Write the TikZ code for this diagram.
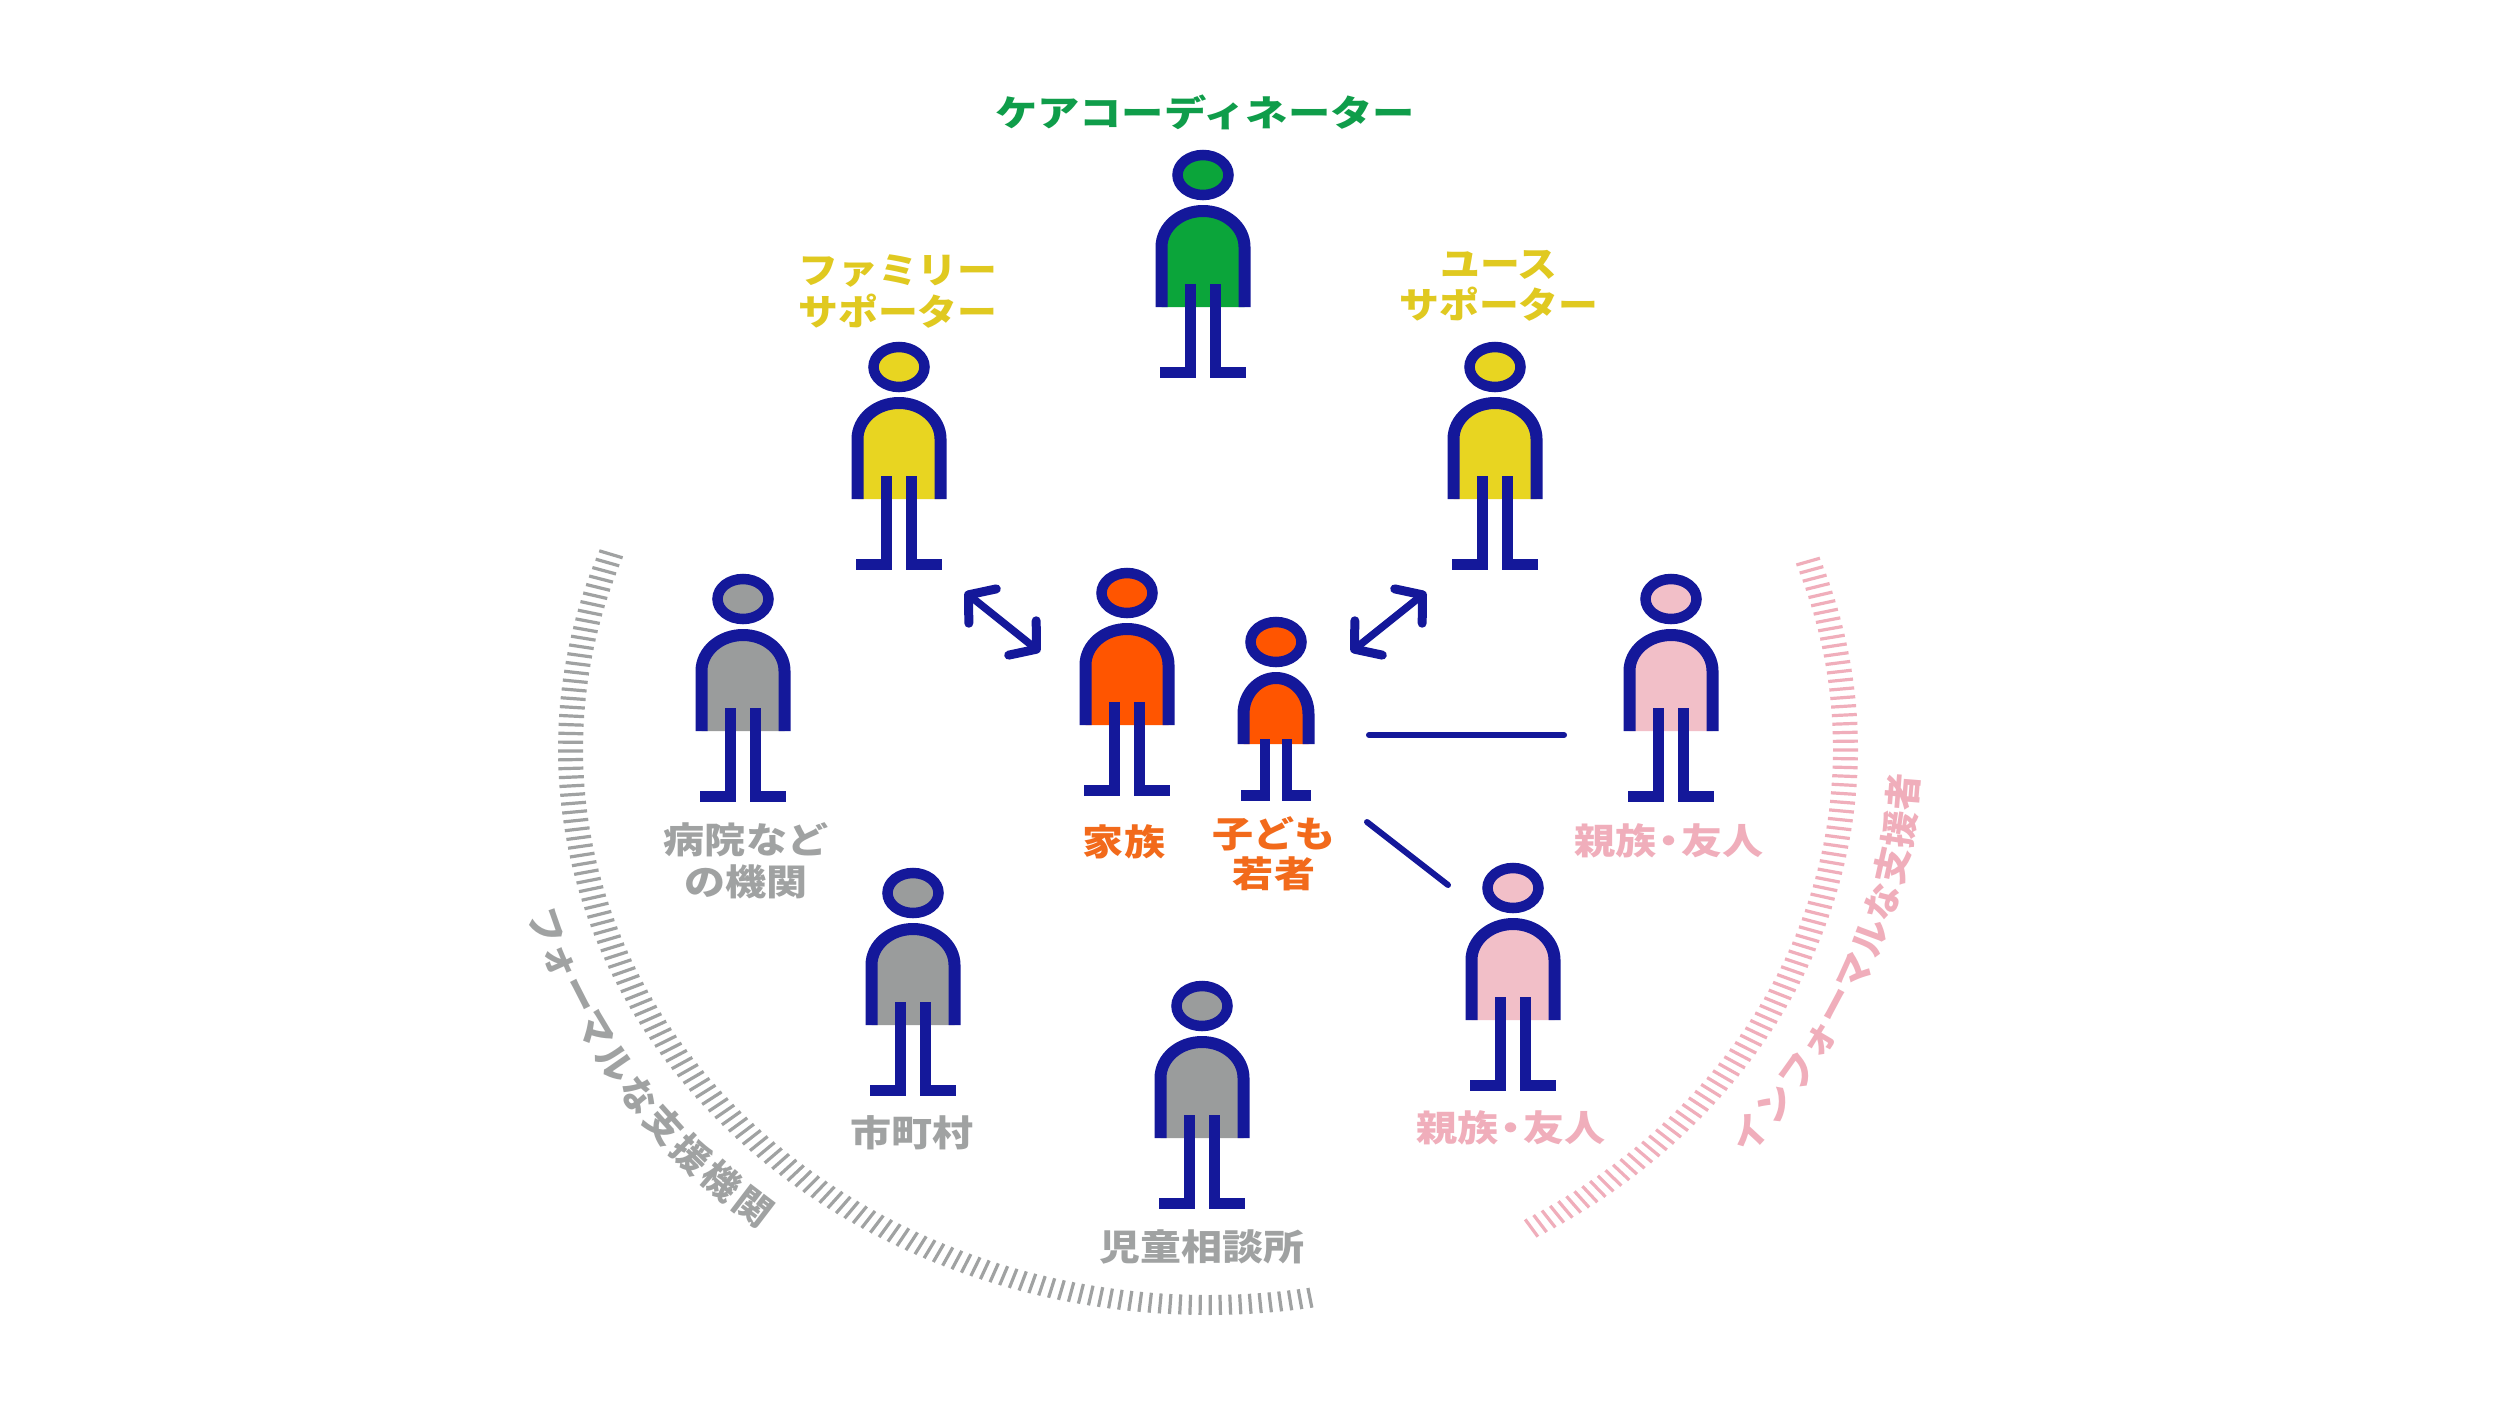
\documentclass[tikz,border=0pt]{standalone}
\usepackage{fontspec}
\setmainfont{Noto Sans CJK JP}
\usetikzlibrary{arrows.meta}
\definecolor{navy}{HTML}{14189A}
\definecolor{cgreen}{HTML}{0BA53A}
\definecolor{cyellow}{HTML}{E8D521}
\definecolor{corange}{HTML}{FF5500}
\definecolor{cgrey}{HTML}{9A9C9C}
\definecolor{cpink}{HTML}{F2BFC8}
\definecolor{tgreen}{HTML}{0F9D4A}
\definecolor{tyellow}{HTML}{E0C920}
\definecolor{torange}{HTML}{F26A1B}
\definecolor{tgrey}{HTML}{A0A2A2}
\definecolor{tpink}{HTML}{F0AEBB}
\tikzset{
  lbl/.style={font=\fontsize{36}{36}\selectfont\bfseries, inner sep=0pt, xscale=1.14, transform shape},
  lblwide/.style={lbl, xscale=1.03},
  lblnarrow/.style={lbl, xscale=0.97},
  arclbl/.style={font=\fontsize{37}{37}\selectfont\bfseries, inner sep=0pt},
  link/.style={draw=navy, line width=6pt, line cap=round},
  dbl/.style={draw=navy, line width=7.5pt, {Straight Barb[length=18pt,width=44pt,line width=9pt,round=false]}-{Straight Barb[length=18pt,width=44pt,line width=9pt,round=false]}},
  tick/.style={line width=3.2pt}
}
% name, cx, cy, colour, half width, body bottom, leg top, leg bottom, leg x
\newcommand{\personfoot}{43}
\newcommand{\figperson}[9]{%
  \coordinate (#1) at (#2,#3);
  \begin{scope}[shift={(#2,#3)}]
    \pgfmathsetmacro{\inw}{#5-6}
    \pgfmathsetmacro{\inwn}{-(#5-6)}
    \draw[navy,fill=#4,line width=10.5pt] (0,0) ellipse [x radius=25.5pt,y radius=20pt];
    \fill[#4] (\inwn,#6) -- (\inwn,72) arc[start angle=180,end angle=0,x radius=\inw pt,y radius=36pt] -- (\inw,#6) -- cycle;
    \draw[navy,line width=12pt,line join=round] (\inwn,#6) -- (\inwn,72) arc[start angle=180,end angle=0,x radius=\inw pt,y radius=36pt] -- (\inw,#6);
    \draw[navy,line width=10.5pt,line join=miter] (-#9,#7) -- (-#9,{#8-4.5}) -- (-\personfoot,{#8-4.5});
    \draw[navy,line width=10.5pt,line join=miter] (#9,#7) -- (#9,{#8-4.5}) -- (\personfoot,{#8-4.5});
  \end{scope}}
\begin{document}
\begin{tikzpicture}[x=1pt,y=-1pt]
\useasboundingbox[fill=white] (0,0) rectangle (2500,1406);

% arcs of ticks
\foreach \k in {0,...,133} {
  \pgfmathsetmacro{\t}{200.5-\k*0.9}
  \draw[tgrey,tick] ({1208+625*cos(\t)},{749+546*sin(\t)}) -- ({1208+650*cos(\t)},{749+566*sin(\t)});
}
\foreach \k in {0,...,88} {
  \pgfmathsetmacro{\t}{-19.7+\k*0.9}
  \draw[tpink,tick] ({1208+625*cos(\t)},{749+546*sin(\t)}) -- ({1208+650*cos(\t)},{749+566*sin(\t)});
}

% adults
\figperson{coord}{1203}{175}{cgreen}{47.5}{132}{109}{202}{12.5}
\figperson{fam}{899}{367}{cyellow}{47.5}{132}{109}{202}{12.5}
\figperson{youth}{1495}{367}{cyellow}{47.5}{132}{109}{202}{12.5}
\figperson{hosp}{743}{599}{cgrey}{47.5}{132}{109}{202}{12.5}
\figperson{city}{913}{893}{cgrey}{47.5}{132}{109}{202}{12.5}
\figperson{cons}{1202}{1006}{cgrey}{47.5}{132}{109}{202}{12.5}
\figperson{rel}{1671}{599}{cpink}{47.5}{132}{109}{202}{12.5}
\figperson{relb}{1513}{888}{cpink}{47.5}{132}{109}{202}{12.5}
\figperson{fami}{1127}{593}{corange}{47.5}{132}{109}{202}{12.5}
\renewcommand{\personfoot}{35}
\figperson{kid}{1276}{642}{corange}{38.5}{102}{97}{158}{11}

% labels
\node[lblwide,text=tgreen] (lcoord) at (1205,112) {ケアコーディネーター};
\node[lblnarrow,text=tyellow] (lfama) at (898,271) {ファミリー};
\node[lblnarrow,text=tyellow] (lfamb) at (898,311) {サポーター};
\node[lblnarrow,text=tyellow] (lyoua) at (1499,265) {ユース};
\node[lblnarrow,text=tyellow] (lyoub) at (1499,304) {サポーター};
\node[lbl,text=tgrey] (lhospa) at (746,840) {病院など};
\node[lbl,text=tgrey] (lhospb) at (746,882) {の機関};
\node[lbl,text=torange] (lfami) at (1124,842) {家族};
\node[lbl,text=torange] (lkida) at (1274,834) {子ども};
\node[lbl,text=torange] (lkidb) at (1274,874) {若者};
\node[lbl,text=tpink] (lrel) at (1669,841) {親族\hspace{-.2em}・\hspace{-.2em}友人};
\node[lbl,text=tpink] (lrelb) at (1511,1128) {親族\hspace{-.2em}・\hspace{-.2em}友人};
\node[lbl,text=tgrey] (lcity) at (912,1133) {市町村};
\node[lbl,text=tgrey] (lcons) at (1202,1247) {児童相談所};

% curved captions
\foreach \i/\c in {0/フ,1/ォ,2/ー,3/マ,4/ル,5/な,6/支,7/援,8/機,9/関} {
  \pgfmathsetmacro{\t}{163-\i*3.55}
  \pgfmathsetmacro{\r}{atan2(607*cos(\t),693*sin(\t))}
  \node[arclbl,text=tgrey,rotate=\r] (g\i) at ({1208+693*cos(\t)},{749+607*sin(\t)}) {\c};
}
\foreach \i/\c in {0/イ,1/ン,2/フ,3/ォ,4/ー,5/マ,6/ル,7/な,8/支,9/援,10/者} {
  \pgfmathsetmacro{\t}{39-\i*3.5}
  \pgfmathsetmacro{\r}{atan2(610*cos(\t),697*sin(\t))}
  \node[arclbl,text=tpink,rotate=\r] (p\i) at ({1208+697*cos(\t)},{749+610*sin(\t)}) {\c};
}

% connectors
\coordinate (aa) at (965,592); \coordinate (ab) at (1040,652);
\coordinate (ba) at (1351,652); \coordinate (bb) at (1426,592);
\coordinate (ca) at (1369,735); \coordinate (cb) at (1564,735);
\coordinate (da) at (1367,822); \coordinate (db) at (1448,885);
\draw[dbl] (aa) -- (ab);
\draw[dbl] (ba) -- (bb);
\draw[link] (ca) -- (cb);
\draw[link] (da) -- (db);
\end{tikzpicture}
\end{document}
